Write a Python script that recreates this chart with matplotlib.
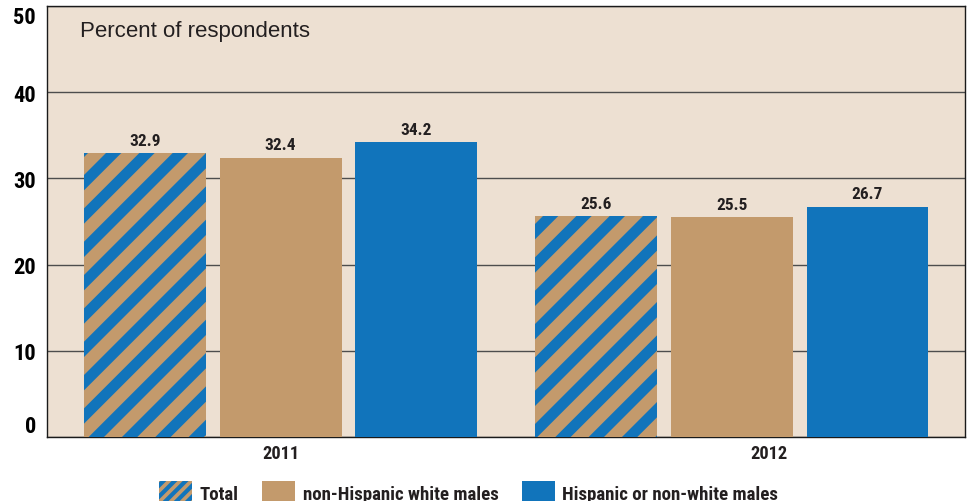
import matplotlib.pyplot as plt
from matplotlib.patches import Patch

# ---- data ----
years = ["2011", "2012"]
groups = ["Total", "non-Hispanic white males", "Hispanic or non-white males"]
values_2011 = [32.9, 32.4, 34.2]
values_2012 = [25.6, 25.5, 26.7]
y_ticks = [0, 10, 20, 30, 40, 50]

# ---- style ----
TAN = "#c39a6c"
BLUE = "#1174bb"
BG = "#ede0d2"
TEXT = "#231f20"
NARROW = ["Roboto Condensed", "Liberation Sans Narrow", "Barlow Semi Condensed", "Liberation Sans"]

plt.rcParams["font.family"] = NARROW
plt.rcParams["hatch.linewidth"] = 3.9

# high dpi keeps the hatch stripes wide
fig = plt.figure(figsize=(4.84, 2.51), dpi=200)
ax = fig.add_axes([0.0486, 0.1275, 0.9484, 0.8585])
ax.set_facecolor(BG)

group_starts = [0, 3.33]
bar_w = 0.9
face = [TAN, TAN, BLUE]
hatches = ["//", "", ""]
edges = [BLUE, TAN, BLUE]

for start, vals in zip(group_starts, [values_2011, values_2012]):
    for i, v in enumerate(vals):
        x = start + i
        ax.bar(x, v, width=bar_w, color=face[i], edgecolor=edges[i],
               hatch=hatches[i], linewidth=0, zorder=3)
        ax.annotate(f"{v:.1f}", (x, v), xytext=(0, 2), textcoords="offset points",
                    ha="center", va="bottom", fontsize=6.2, fontweight="bold",
                    color=TEXT)

ax.set_xlim(-0.723, 6.05)
ax.set_ylim(0, 50)

ax.set_yticks(y_ticks)
ax.set_yticklabels([str(t) for t in y_ticks], fontsize=8.1, fontweight="bold", color="black")
labels = ax.get_yticklabels()
labels[0].set_va("bottom")
labels[-1].set_va("top")

ax.set_xticks([1, 4.6])
ax.set_xticklabels(years, fontsize=6.6, fontweight="bold", color=TEXT)
ax.tick_params(axis="both", length=0)
ax.tick_params(axis="y", pad=4)
ax.tick_params(axis="x", pad=2.5)

ax.yaxis.grid(True, color="#4d4d4d", linewidth=0.5, zorder=1)
ax.set_axisbelow(True)
for s in ax.spines.values():
    s.set_color("#1a1a1a")
    s.set_linewidth(0.5)

ax.text(0.036, 0.968, "Percent of respondents", transform=ax.transAxes,
        fontsize=8, color=TEXT, ha="left", va="top", family="Liberation Sans")

# ---- legend ----
with plt.rc_context({"hatch.linewidth": 1.5}):
    handles = [
        Patch(facecolor=TAN, edgecolor=BLUE, hatch="//////", linewidth=0),
        Patch(facecolor=TAN, linewidth=0),
        Patch(facecolor=BLUE, linewidth=0),
    ]
    fig.legend(handles, groups, loc="lower center", bbox_to_anchor=(0.484, -0.005), ncol=3,
               frameon=False, handlelength=1.75, handleheight=1.45, handletextpad=0.4,
               columnspacing=1.25, borderpad=0, borderaxespad=0,
               prop={"size": 6.8, "weight": "bold"}, labelcolor=TEXT)

fig.savefig("out.png", dpi=200, facecolor="white")
